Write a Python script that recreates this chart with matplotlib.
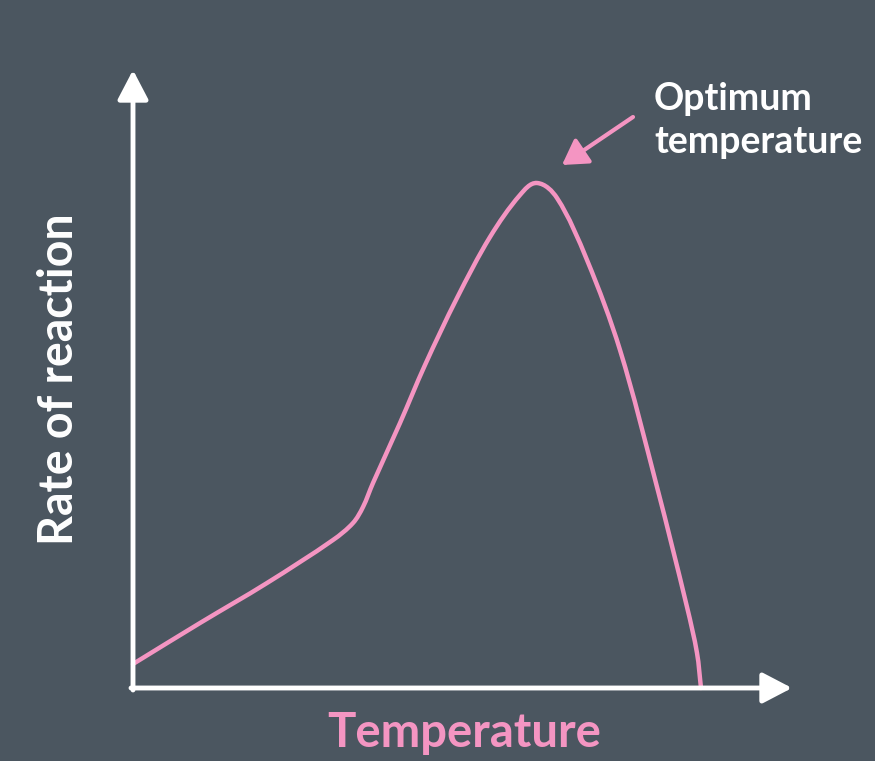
import matplotlib
matplotlib.use("Agg")
import matplotlib.pyplot as plt
import numpy as np
from matplotlib.path import Path
from matplotlib.patches import PathPatch

# temperature (arbitrary units) vs rate of reaction (arbitrary units)
temperature = [0, 67, 134, 200, 220, 230, 240, 267, 292, 324, 357, 387, 404,
               424, 454, 487, 524, 554, 564, 568]
rate = [24, 65, 105, 148, 165, 181, 205, 265, 323, 390, 451, 493, 505,
        490, 428, 338, 201, 81, 35, 0]

x_label = "Temperature"
y_label = "Rate of reaction"
note = "Optimum\ntemperature"

bg = "#4b5660"
pink = "#f495c2"

plt.rcParams['font.family'] = ['Lato', 'DejaVu Sans']


def smooth_path(xs, ys):
    # cubic bezier through every point, tangents from the neighbours
    p = np.column_stack([xs, ys]).astype(float)
    n = len(p)
    tang = np.zeros_like(p)
    for i in range(n):
        a = p[max(i - 1, 0)]
        b = p[min(i + 1, n - 1)]
        d = b - a
        tang[i] = d / np.hypot(*d)
    verts = [p[0]]
    codes = [Path.MOVETO]
    for i in range(n - 1):
        L = np.hypot(*(p[i + 1] - p[i])) / 3
        verts += [p[i] + tang[i] * L, p[i + 1] - tang[i + 1] * L, p[i + 1]]
        codes += [Path.CURVE4] * 3
    return Path(verts, codes)


fig = plt.figure(figsize=(8.75, 7.61), dpi=100, facecolor=bg)
W, H = 875, 761
ax = fig.add_axes([133 / W, (H - 688) / H, (792 - 133) / W, (688 - 70) / H])
ax.set_facecolor(bg)
ax.set_xlim(0, 659)
ax.set_ylim(0, 618)
for s in ax.spines.values():
    s.set_visible(False)
ax.set_xticks([])
ax.set_yticks([])

ax.add_patch(PathPatch(smooth_path(temperature, rate), fill=False, edgecolor=pink,
                       lw=3.2, capstyle='round', joinstyle='round', clip_on=False,
                       zorder=3))

# axis arrows
arrow = dict(arrowstyle='-|>,head_length=0.9,head_width=0.47', color='white',
             lw=3.5, shrinkA=0, shrinkB=0, mutation_scale=20)
ax.annotate('', xy=(659, 0), xytext=(-2, 0), xycoords='data', arrowprops=arrow,
            annotation_clip=False, zorder=4)
ax.annotate('', xy=(0, 618), xytext=(0, -2), xycoords='data', arrowprops=arrow,
            annotation_clip=False, zorder=4)

# optimum pointer
peak = rate.index(max(rate))
ax.annotate('', xy=(temperature[peak] + 25, max(rate) + 18),
            xytext=(temperature[peak] + 96, max(rate) + 66),
            arrowprops=dict(arrowstyle='-|>,head_length=0.75,head_width=0.45',
                            color=pink, lw=3, shrinkA=0, shrinkB=0, mutation_scale=20),
            annotation_clip=False)
fig.text(654 / W, 1 - 82 / H, note, color='white', fontsize=27, fontweight='bold',
         ha='left', va='top', linespacing=1.32)

fig.text(464 / W, 1 - 733 / H, x_label, color=pink, fontsize=34, fontweight='bold',
         ha='center', va='center')
fig.text(59 / W, 1 - 379 / H, y_label, color='white', fontsize=33.5, fontweight='bold',
         ha='center', va='center', rotation=90)

fig.savefig("out.png", dpi=100, facecolor=bg)
